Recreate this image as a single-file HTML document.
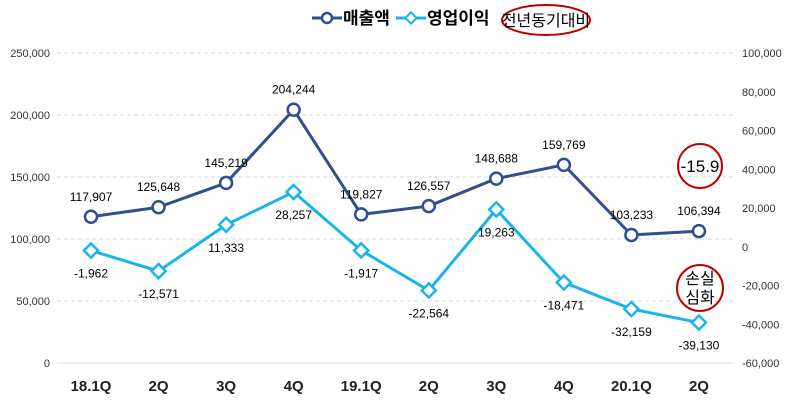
<!DOCTYPE html>
<html><head><meta charset="utf-8">
<style>
body{margin:0;background:#fff;}
svg{display:block;font-family:"Liberation Sans","Noto Sans CJK KR",sans-serif;}
</style></head>
<body>
<svg id="chart" width="790" height="406" viewBox="0 0 790 406">
<g id="grid"></g>
<g id="axes"></g>
<g id="series"></g>
<g id="legend">
  <g>
    <line x1="312" y1="18" x2="342" y2="18" stroke="#2F4F8F" stroke-width="3"/>
    <circle cx="327" cy="18" r="5" fill="#fff" stroke="#2F4F8F" stroke-width="2.5"/>
    <text x="343" y="24" font-size="17" font-weight="bold" fill="#000">매출액</text>
  </g>
  <g>
    <line x1="396" y1="18" x2="426" y2="18" stroke="#19B4EC" stroke-width="3"/>
    <rect x="407" y="14" width="8" height="8" transform="rotate(45 411 18)" fill="#fff" stroke="#19B4EC" stroke-width="2"/>
    <text x="427" y="24" font-size="17" font-weight="bold" fill="#000">영업이익</text>
  </g>
  <g>
    <ellipse cx="546" cy="20" rx="44" ry="15" fill="none" stroke="#C00000" stroke-width="2"/>
    <text x="546" y="26" font-size="16" text-anchor="middle" fill="#000">전년동기대비</text>
  </g>
</g>
<g>
  <circle cx="700" cy="166" r="22" fill="none" stroke="#C00000" stroke-width="2"/>
  <text x="700" y="172" font-size="17" text-anchor="middle" fill="#000">-15.9</text>
</g>
<g>
  <circle cx="700" cy="288" r="23" fill="none" stroke="#C00000" stroke-width="2"/>
  <text x="700" y="284" font-size="16" text-anchor="middle" fill="#000">손실</text>
  <text x="700" y="303" font-size="16" text-anchor="middle" fill="#000">심화</text>
</g>
</svg>
<script>
const categories=["18.1Q","2Q","3Q","4Q","19.1Q","2Q","3Q","4Q","20.1Q","2Q"];
const sales=[117907,125648,145219,204244,119827,126557,148688,159769,103233,106394];
const opProfit=[-1962,-12571,11333,28257,-1917,-22564,19263,-18471,-32159,-39130];
const leftTicks=[0,50000,100000,150000,200000,250000];
const rightTicks=[-60000,-40000,-20000,0,20000,40000,60000,80000,100000];

const NS="http://www.w3.org/2000/svg";
const plotTop=53,plotBottom=363,x0=91,dx=67.55;
const yL=v=>plotBottom-(v/250000)*(plotBottom-plotTop);
const yR=v=>plotBottom-((v+60000)/160000)*(plotBottom-plotTop);
const xC=i=>x0+i*dx;
const fmt=v=>v.toLocaleString("en-US");
function el(tag,attrs,parent,text){const e=document.createElementNS(NS,tag);for(const k in attrs)e.setAttribute(k,attrs[k]);if(text!==undefined)e.textContent=text;parent.appendChild(e);return e;}
const grid=document.getElementById("grid"),axes=document.getElementById("axes"),series=document.getElementById("series");

leftTicks.forEach(t=>{
  if(t>0){const g=el("line",{x1:57,x2:733,y1:yL(t),y2:yL(t),stroke:"#D9D9D9","stroke-dasharray":"4,3"},grid);
  
  }
  const tx=el("text",{x:50,y:yL(t)+4,"font-size":11,"text-anchor":"end",fill:"#333"},axes,fmt(t));
  
  
});
const base=el("line",{x1:57,x2:733,y1:plotBottom,y2:plotBottom,stroke:"#D9D9D9"},grid);


rightTicks.forEach(t=>{
  const tx=el("text",{x:742,y:yR(t)+4,"font-size":11,fill:"#333"},axes,fmt(t));
  
  
});
categories.forEach((c,i)=>{
  const tx=el("text",{x:xC(i),y:391,"font-size":15,"font-weight":"bold","text-anchor":"middle",fill:"#222"},axes,c);
  
  
});

const sp=el("polyline",{points:sales.map((v,i)=>xC(i)+","+yL(v)).join(" "),fill:"none",stroke:"#2F4F8F","stroke-width":3},series);


const op=el("polyline",{points:opProfit.map((v,i)=>xC(i)+","+yR(v)).join(" "),fill:"none",stroke:"#19B4EC","stroke-width":3},series);



sales.forEach((v,i)=>{
  const c=el("circle",{cx:xC(i),cy:yL(v),r:6,fill:"#fff",stroke:"#2F4F8F","stroke-width":2.5},series);
  
  
  const t=el("text",{x:xC(i),y:yL(v)-16,"font-size":12,"text-anchor":"middle",fill:"#000"},series,fmt(v));
  
  
});
opProfit.forEach((v,i)=>{
  const x=xC(i),y=yR(v);
  const r=el("rect",{x:x-5,y:y-5,width:10,height:10,transform:`rotate(45 ${x} ${y})`,fill:"#fff",stroke:"#19B4EC","stroke-width":2.5},series);
  
  
  const t=el("text",{x:x,y:y+27,"font-size":12,"text-anchor":"middle",fill:"#000"},series,fmt(v));
  
  
});
</script>
</body></html>
